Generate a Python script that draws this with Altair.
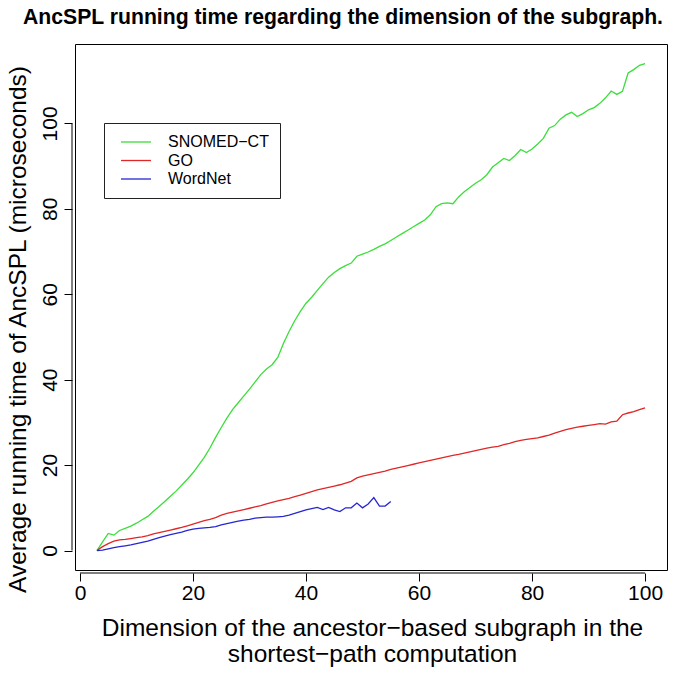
import altair as alt
import pandas as pd

# ---- data ----
dims_snomed = list(range(3, 101))
snomed = [0, 2.0, 4.0, 3.6, 4.7, 5.2, 5.7, 6.4, 7.2, 8.0,
          9.2, 10.3, 11.5, 12.7, 13.9, 15.3, 16.7, 18.2, 20.0, 21.8,
          24.0, 26.5, 28.8, 31.0, 33.0, 34.6, 36.2, 37.8, 39.5, 41.2,
          42.5, 43.5, 45.2, 48.5, 51.3, 53.8, 56.0, 57.9, 59.3, 60.9,
          62.5, 64.0, 65.1, 66.0, 66.7, 67.3, 68.9, 69.4, 69.9, 70.5,
          71.2, 71.8, 72.6, 73.4, 74.2, 75.0, 75.8, 76.6, 77.4, 78.6,
          80.5, 81.2, 81.4, 81.2, 82.8, 84.0, 85.0, 86.0, 86.8, 88.0,
          89.8, 90.8, 91.8, 91.3, 92.5, 93.9, 93.2, 94.0, 95.2, 96.5,
          98.9, 99.5, 101.0, 102.0, 102.6, 101.6, 102.3, 103.2, 103.7, 104.7,
          106.0, 107.6, 106.8, 107.5, 111.8, 112.6, 113.6, 114.0]

dims_go = list(range(3, 101))
go = [0, 0.9, 1.6, 2.2, 2.5, 2.6, 2.8, 3.0, 3.2, 3.5,
      3.9, 4.2, 4.5, 4.8, 5.1, 5.4, 5.8, 6.2, 6.6, 7.0,
      7.3, 7.7, 8.3, 8.7, 9.0, 9.3, 9.6, 9.9, 10.2, 10.5,
      10.9, 11.3, 11.6, 11.9, 12.2, 12.6, 13.0, 13.4, 13.8, 14.2,
      14.5, 14.8, 15.1, 15.4, 15.8, 16.2, 17.0, 17.4, 17.7, 18.0,
      18.3, 18.6, 19.0, 19.3, 19.6, 19.9, 20.2, 20.5, 20.8, 21.1,
      21.4, 21.7, 22.0, 22.3, 22.5, 22.8, 23.1, 23.4, 23.7, 24.0,
      24.2, 24.4, 24.8, 25.1, 25.5, 25.8, 26.0, 26.2, 26.4, 26.7,
      27.0, 27.5, 27.9, 28.3, 28.6, 28.9, 29.1, 29.3, 29.5, 29.7,
      29.6, 30.1, 30.3, 31.8, 32.2, 32.5, 33.0, 33.4]

dims_wordnet = list(range(3, 56))
wordnet = [0, 0.1, 0.4, 0.7, 0.9, 1.1, 1.3, 1.6, 1.9, 2.2,
           2.6, 3.0, 3.4, 3.7, 4.0, 4.3, 4.7, 5.0, 5.2, 5.3,
           5.4, 5.6, 6.0, 6.3, 6.6, 6.9, 7.1, 7.3, 7.6, 7.7,
           7.8, 7.8, 7.9, 8.0, 8.3, 8.7, 9.1, 9.5, 9.8, 10.1,
           9.6, 10.1, 9.5, 9.1, 10.0, 10.0, 11.1, 10.0, 10.9, 12.4,
           10.4, 10.4, 11.5]

series_names = ["SNOMED\u2212CT", "GO", "WordNet"]
series_colors = ["#3ade3a", "#e02626", "#2626d4"]
x_ticks = [0, 20, 40, 60, 80, 100]
y_ticks = [0, 20, 40, 60, 80, 100]

rows = []
for name, xs, ys in zip(series_names, [dims_snomed, dims_go, dims_wordnet], [snomed, go, wordnet]):
    for xv, yv in zip(xs, ys):
        rows.append({"x": xv, "y": yv, "series": name})
df = pd.DataFrame(rows)

W, H = 592, 526
AX_OFF = 3

x_enc = alt.X("x:Q",
              scale=alt.Scale(domain=[-0.88, 103.88], nice=False, zero=False),
              axis=alt.Axis(values=x_ticks, domain=False, grid=False, tickSize=8,
                            offset=AX_OFF, labelPadding=1, labelFontSize=21,
                            title=["Dimension of the ancestor\u2212based subgraph in the",
                                   "shortest\u2212path computation"],
                            titleFontSize=24.5, titleFontWeight="normal",
                            titleLineHeight=26, titleBaseline="top",
                            titleX=297, titleY=43))
y_enc = alt.Y("y:Q",
              scale=alt.Scale(domain=[-4.56, 118.6], nice=False, zero=False),
              axis=alt.Axis(values=y_ticks, domain=False, grid=False, tickSize=8,
                            offset=AX_OFF, labelPadding=8, labelFontSize=21,
                            labelAngle=270, labelAlign="center", labelBaseline="alphabetic",
                            title="Average running time of AncSPL (microseconds)",
                            titleFontSize=24.5, titleFontWeight="normal",
                            titleAngle=270, titleAlign="center", titleBaseline="alphabetic",
                            titleX=-47, titleY=285))

lines = alt.Chart(df).mark_line(strokeWidth=1.3).encode(
    x=x_enc,
    y=y_enc,
    color=alt.Color("series:N",
                    scale=alt.Scale(domain=series_names, range=series_colors),
                    sort=series_names,
                    legend=alt.Legend(title=None, orient="none", legendX=29, legendY=79,
                                      symbolType="M-0.4,0L5.6,0", symbolSize=100,
                                      symbolStrokeWidth=1.3, labelFontSize=16,
                                      labelOffset=37, padding=11, rowPadding=2.5,
                                      strokeColor="#222222", labelLimit=400)),
)

xline = alt.Chart(pd.DataFrame({"x": [x_ticks[0]], "x2": [x_ticks[-1]]})).mark_rule(
    color="black", strokeWidth=1).encode(x=x_enc, x2="x2:Q", y=alt.value(H + AX_OFF))
yline = alt.Chart(pd.DataFrame({"y": [y_ticks[0]], "y2": [y_ticks[-1]]})).mark_rule(
    color="black", strokeWidth=1).encode(y=y_enc, y2="y2:Q", x=alt.value(-AX_OFF))

chart = alt.layer(lines, xline, yline).properties(
    width=W, height=H,
    title=alt.TitleParams("AncSPL running time regarding the dimension of the subgraph.",
                          fontSize=21.2, fontWeight="bold", anchor="middle", dx=-28,
                          offset=16, color="black", font="Liberation Sans"),
    padding={"left": 67, "top": 36, "right": 10, "bottom": 98},
    autosize=alt.AutoSizeParams(type="none"),
).configure_view(stroke="black", strokeWidth=1).configure_axis(
    labelFont="Liberation Sans", titleFont="Liberation Sans",
    labelColor="black", titleColor="black", tickColor="black", tickWidth=1
).configure_legend(labelFont="Liberation Sans", labelColor="black")

chart.save("out.html", embed_options={"renderer": "svg", "actions": False})
